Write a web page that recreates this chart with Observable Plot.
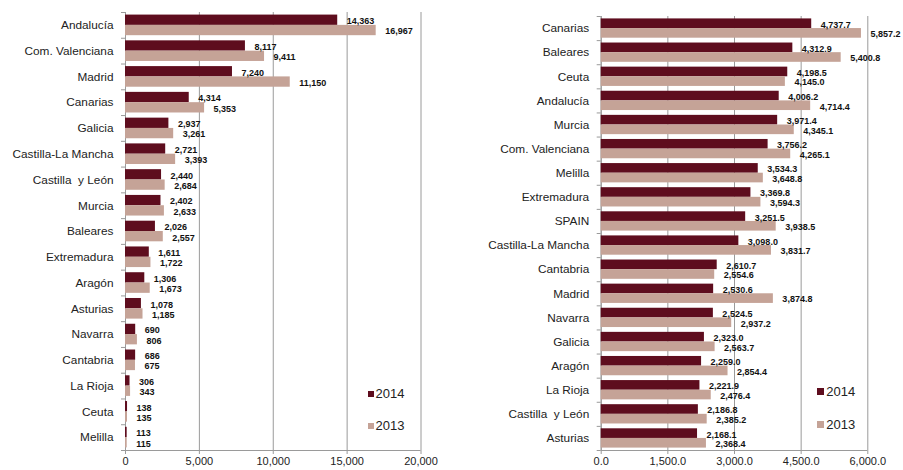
<!DOCTYPE html>
<html>
<head>
<meta charset="utf-8">
<script src="https://cdn.jsdelivr.net/npm/d3@7"></script>
<script src="https://cdn.jsdelivr.net/npm/@observablehq/plot@0.6"></script>
<style>
  html, body { margin: 0; padding: 0; background: #fff; }
  #wrap { position: relative; width: 903px; height: 470px; display: flex; font-family: "Liberation Sans", Arial, sans-serif; }
  .leg { position: absolute; display: flex; align-items: center; font-size: 13px; line-height: 13px; color: #222; }
  .leg span.sw { display: inline-block; margin-right: 2px; }
</style>
</head>
<body>
<div id="wrap"></div>
<script>
// ---------- data ----------
const years = ["2014", "2013"];
const colors = ["#5e0d1e", "#c5a397"];

const leftCategories = ["Andalucía", "Com. Valenciana", "Madrid", "Canarias", "Galicia", "Castilla-La Mancha",
  "Castilla  y León", "Murcia", "Baleares", "Extremadura", "Aragón", "Asturias", "Navarra", "Cantabria",
  "La Rioja", "Ceuta", "Melilla"];
const left2014 = [14363, 8117, 7240, 4314, 2937, 2721, 2440, 2402, 2026, 1611, 1306, 1078, 690, 686, 306, 138, 113];
const left2013 = [16967, 9411, 11150, 5353, 3261, 3393, 2684, 2633, 2557, 1722, 1673, 1185, 806, 675, 343, 135, 115];
const leftTicks = [0, 5000, 10000, 15000, 20000];

const rightCategories = ["Canarias", "Baleares", "Ceuta", "Andalucía", "Murcia", "Com. Valenciana", "Melilla",
  "Extremadura", "SPAIN", "Castilla-La Mancha", "Cantabria", "Madrid", "Navarra", "Galicia", "Aragón",
  "La Rioja", "Castilla  y León", "Asturias"];
const right2014 = [4737.7, 4312.9, 4198.5, 4006.2, 3971.4, 3756.2, 3534.3, 3369.8, 3251.5, 3098.0, 2610.7,
  2530.6, 2524.5, 2323.0, 2259.0, 2221.9, 2186.8, 2168.1];
const right2013 = [5857.2, 5400.8, 4145.0, 4714.4, 4345.1, 4265.1, 3648.8, 3594.3, 3938.5, 3831.7, 2554.6,
  3874.8, 2937.2, 2563.7, 2854.4, 2476.4, 2385.2, 2368.4];
const rightTicks = [0, 1500, 3000, 4500, 6000];

// ---------- chart builder ----------
function makeChart({categories, v14, v13, ticks, fmt, width, marginLeft, marginRight, marginTop}) {
  const n = categories.length;
  const rows = categories.flatMap((c, i) => [
    {cat: c, i, year: "2014", v: v14[i]},
    {cat: c, i, year: "2013", v: v13[i]}
  ]);
  const off = d => d.year === "2014" ? 0.1 : 0.5;
  const grey = "#9a9a9a";
  return Plot.plot({
    width, height: 470,
    marginLeft, marginRight, marginTop, marginBottom: 20,
    style: {fontFamily: "Liberation Sans, Arial, sans-serif", color: "#222", background: "#fff", overflow: "visible"},
    x: {domain: [ticks[0], ticks[ticks.length - 1]], label: null},
    y: {domain: [0, n], reverse: true, label: null},
    color: {domain: years, range: colors},
    marks: [
      Plot.gridX(ticks, {stroke: grey, strokeOpacity: 1, strokeWidth: 1}),
      Plot.ruleX([0], {stroke: grey}),
      Plot.rectX(rows, {x1: 0, x2: "v", y1: d => d.i + off(d), y2: d => d.i + off(d) + 0.4, fill: "year"}),
      Plot.ruleY([n], {stroke: grey}),
      Plot.axisY({ticks: d3.range(n + 1), tickSize: 4, tickFormat: () => "", stroke: grey}),
      Plot.axisY({ticks: categories.map((c, i) => i + 0.5), tickFormat: v => categories[Math.floor(v)],
        tickSize: 0, tickPadding: 12, fontSize: 11.8, fill: "#222"}),
      Plot.axisX({ticks, tickFormat: fmt, tickSize: 4, tickPadding: 3, fontSize: 11, stroke: grey, fill: "#222"}),
      Plot.text(rows, {x: "v", y: d => d.i + off(d) + 0.2, text: d => fmt(d.v), textAnchor: "start",
        dx: 9, dy: 1, fontWeight: "bold", fontSize: 9, fill: "#111"})
    ]
  });
}

const wrap = document.getElementById("wrap");
wrap.appendChild(makeChart({categories: leftCategories, v14: left2014, v13: left2013, ticks: leftTicks,
  fmt: d3.format(","), width: 450, marginLeft: 125, marginRight: 29.5, marginTop: 12}));
wrap.appendChild(makeChart({categories: rightCategories, v14: right2014, v13: right2013, ticks: rightTicks,
  fmt: d3.format(",.1f"), width: 453, marginLeft: 150.7, marginRight: 35.7, marginTop: 16}));

// ---------- legends ----------
function legend(x, y, size, idx) {
  const d = document.createElement("div");
  d.className = "leg";
  d.style.left = x + "px";
  d.style.top = y + "px";
  d.innerHTML = `<span class="sw" style="width:${size}px;height:${size}px;background:${colors[idx]}"></span>${years[idx]}`;
  wrap.appendChild(d);
}
legend(367.5, 387, 6, 0);
legend(367.5, 419, 6, 1);
legend(817.3, 385, 7, 0);
legend(817.3, 418, 7, 1);
</script>
</body>
</html>
